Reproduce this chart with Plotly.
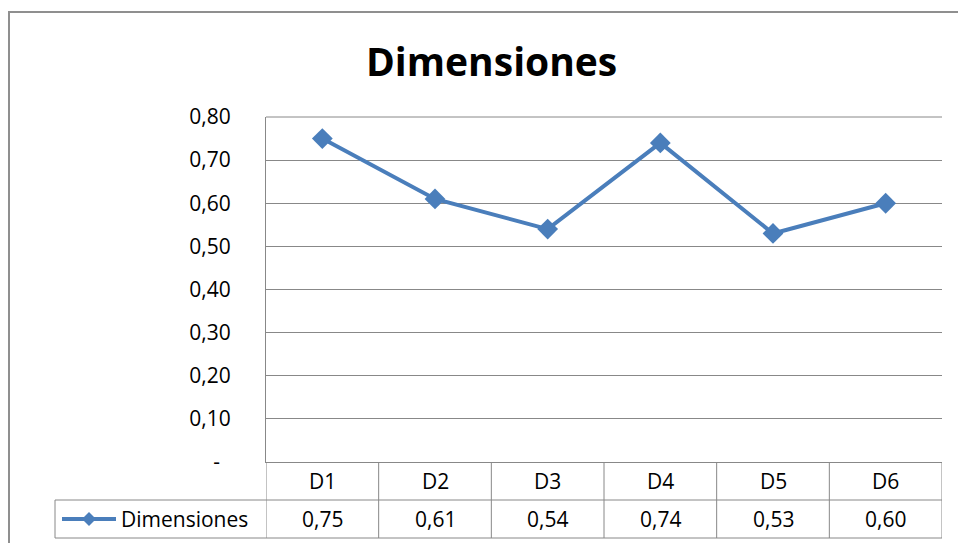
import plotly.graph_objects as go

# Chart data
categories = ["D1", "D2", "D3", "D4", "D5", "D6"]
values = [0.75, 0.61, 0.54, 0.74, 0.53, 0.60]
series_name = "Dimensiones"
title_text = "Dimensiones"
y_ticks = [0.0, 0.1, 0.2, 0.3, 0.4, 0.5, 0.6, 0.7, 0.8]

W, H = 958, 543
L, R, T, B = 266, 16, 117, 81          # plot area margins (px)
PW, PH = W - L - R, H - T - B

LINE_COLOR = "#4A7EBB"
GRID = "#888888"
FONT = "Open Sans"
TXT = 21


def px_x(px):
    """pixel x -> paper x"""
    return (px - L) / PW


def px_y(py):
    """pixel y -> paper y"""
    return (H - B - py) / PH


def fmt(v):
    return f"{v:.2f}".replace(".", ",")


tick_text = ["-\u00a0\u00a0" if v == 0 else fmt(v) for v in y_ticks]

fig = go.Figure()
fig.add_trace(go.Scatter(
    x=categories, y=values, mode="lines+markers", name=series_name,
    line=dict(color=LINE_COLOR, width=4),
    marker=dict(symbol="diamond", size=16, color=LINE_COLOR),
    showlegend=False, cliponaxis=False,
))

shapes = []
annotations = []

# data table geometry (pixel rows)
row1_top, row_mid, row_bot = H - B, 500, 538
legend_left = 55
n = len(categories)

# top gridline of the plot area
shapes.append(dict(type="line", xref="paper", yref="paper", layer="below",
                   x0=0, x1=1, y0=1, y1=1, line=dict(color=GRID, width=1)))

# vertical column lines in the table
for i in range(n + 1):
    shapes.append(dict(type="line", xref="x", yref="paper",
                       x0=i - 0.5, x1=i - 0.5, y0=0, y1=px_y(row_bot),
                       line=dict(color=GRID, width=1)))
# horizontal table lines
for py in (row_mid, row_bot):
    shapes.append(dict(type="line", xref="paper", yref="paper",
                       x0=px_x(legend_left), x1=1, y0=px_y(py), y1=px_y(py),
                       line=dict(color=GRID, width=1)))
# legend cell left edge
shapes.append(dict(type="line", xref="paper", yref="paper",
                   x0=px_x(legend_left), x1=px_x(legend_left),
                   y0=px_y(row_mid), y1=px_y(row_bot),
                   line=dict(color=GRID, width=1)))

# legend key: line with diamond
key_y = (row_mid + row_bot) / 2
shapes.append(dict(type="line", xref="paper", yref="paper",
                   x0=px_x(62), x1=px_x(116), y0=px_y(key_y), y1=px_y(key_y),
                   line=dict(color=LINE_COLOR, width=4)))
cx, cy, r = 89, key_y, 7
path = (f"M {px_x(cx - r)},{px_y(cy)} L {px_x(cx)},{px_y(cy - r)} "
        f"L {px_x(cx + r)},{px_y(cy)} L {px_x(cx)},{px_y(cy + r)} Z")
shapes.append(dict(type="path", xref="paper", yref="paper", path=path,
                   fillcolor=LINE_COLOR, line=dict(color=LINE_COLOR, width=0)))

# outer chart border (left and top edges)
shapes.append(dict(type="path", xref="paper", yref="paper",
                   path=f"M {px_x(9)},{px_y(H + 5)} L {px_x(9)},{px_y(12)} L {px_x(W + 5)},{px_y(12)}",
                   line=dict(color="#8f8f8f", width=2)))

# table text
for i, (c, v) in enumerate(zip(categories, values)):
    annotations.append(dict(x=i, y=px_y((row1_top + row_mid) / 2), xref="x", yref="paper",
                            text=c, showarrow=False, xanchor="center", yanchor="middle",
                            font=dict(family=FONT, size=TXT, color="#000000")))
    annotations.append(dict(x=i, y=px_y(key_y), xref="x", yref="paper",
                            text=fmt(v), showarrow=False, xanchor="center", yanchor="middle",
                            font=dict(family=FONT, size=TXT, color="#000000")))
annotations.append(dict(x=px_x(119), y=px_y(key_y), xref="paper", yref="paper",
                        text=series_name, showarrow=False, xanchor="left", yanchor="middle",
                        font=dict(family=FONT, size=TXT, color="#000000")))

# title
annotations.append(dict(x=px_x(491), y=px_y(60), xref="paper", yref="paper",
                        text=f"<b>{title_text}</b>", showarrow=False,
                        xanchor="center", yanchor="middle",
                        font=dict(family=FONT, size=39, color="#000000")))

fig.update_layout(
    width=W, height=H,
    margin=dict(l=L, r=R, t=T, b=B, pad=0),
    paper_bgcolor="white", plot_bgcolor="white",
    shapes=shapes, annotations=annotations,
    xaxis=dict(range=[-0.5, n - 0.5], showgrid=False, showticklabels=False,
               showline=True, linecolor=GRID, linewidth=1, zeroline=False,
               ticks=""),
    yaxis=dict(range=[0, 0.8], tickvals=y_ticks, ticktext=tick_text,
               showgrid=True, gridcolor=GRID, gridwidth=1,
               showline=True, linecolor=GRID, linewidth=1, zeroline=False,
               ticks="", ticklabelstandoff=30,
               tickfont=dict(family=FONT, size=TXT, color="#000000")),
)

fig.write_html("out.html")
